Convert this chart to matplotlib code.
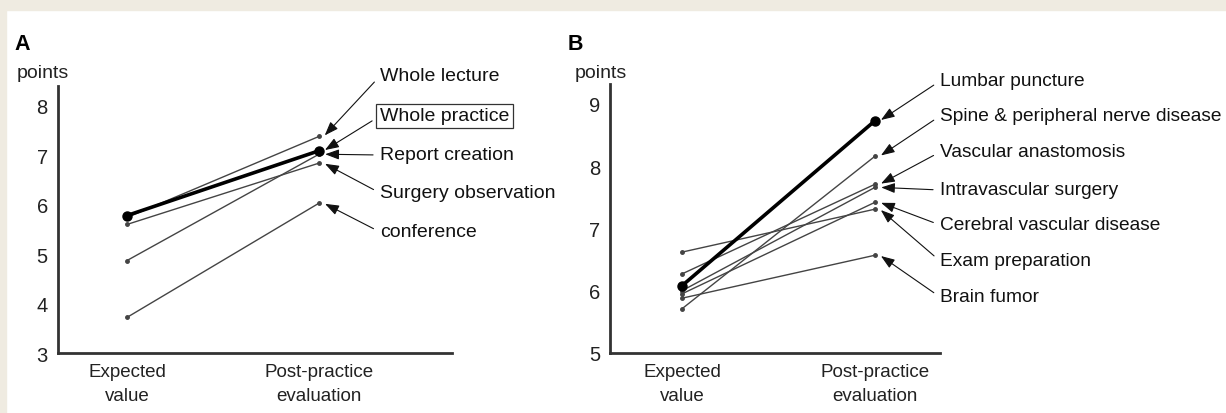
import matplotlib.pyplot as plt
from matplotlib.patches import Rectangle

plt.rcParams['font.family'] = ['Liberation Sans', 'DejaVu Sans']

W, H = 1226, 414

# panel A data
a_labels = ['Whole lecture', 'Whole practice', 'Report creation',
            'Surgery observation', 'conference']
a_expected = [5.74, 5.78, 4.87, 5.60, 3.72]
a_post = [7.38, 7.09, 7.02, 6.84, 6.03]
a_bold = 'Whole practice'
a_label_y = [77, 117, 156, 194, 233]

# panel B data
b_labels = ['Lumbar puncture', 'Spine & peripheral nerve disease',
            'Vascular anastomosis', 'Intravascular surgery',
            'Cerebral vascular disease', 'Exam preparation', 'Brain fumor']
b_expected = [6.08, 5.71, 6.27, 6.00, 5.95, 6.62, 5.88]
b_post = [8.73, 8.16, 7.71, 7.66, 7.42, 7.31, 6.57]
b_bold = 'Lumbar puncture'
b_label_y = [82, 117, 153, 191, 226, 262, 298]

xcats = ['Expected\nvalue', 'Post-practice\nevaluation']

fig = plt.figure(figsize=(W / 100, H / 100), dpi=100)
fig.patch.set_facecolor('white')
# beige frame at top and left
fig.patches.append(Rectangle((0, 1 - 11 / H), 1, 11 / H, transform=fig.transFigure,
                             color='#efebe1', zorder=0))
fig.patches.append(Rectangle((0, 0), 6 / W, 1, transform=fig.transFigure,
                             color='#efebe1', zorder=0))


def px_ax(left, right, top, bottom):
    return fig.add_axes([left / W, (H - bottom) / H, (right - left) / W, (bottom - top) / H])


def panel(ax, labels, expected, post, bold, label_y, text_x, ylim, xlim, yticks,
          fs, boxed=None):
    for lab, e, p in zip(labels, expected, post):
        if lab == bold:
            ax.plot([0, 1], [e, p], color='black', lw=2.6, marker='o', ms=6.5, zorder=4)
        else:
            ax.plot([0, 1], [e, p], color='#444444', lw=1.0, marker='o', ms=2.5, zorder=3)
    for lab, p, ly in zip(labels, post, label_y):
        bbox = None
        if lab == boxed:
            bbox = dict(boxstyle='square,pad=0.2', fc='white', ec='#333333', lw=0.9)
        ax.annotate(lab, xy=(1.025, p), xycoords='data',
                    xytext=(text_x, H - ly), textcoords='figure pixels',
                    ha='left', va='center', fontsize=fs, color='#111111', bbox=bbox,
                    annotation_clip=False,
                    arrowprops=dict(arrowstyle='-|>,head_length=0.6,head_width=0.22',
                                    color='#111111', lw=0.8, shrinkA=3, shrinkB=1,
                                    relpos=(0, 0.5)))
    ax.set_xlim(*xlim)
    ax.set_ylim(*ylim)
    ax.set_yticks(yticks)
    ax.set_xticks([0, 1])
    ax.set_xticklabels(xcats, linespacing=1.55)
    ax.tick_params(length=0, labelsize=13.5, colors='#222222')
    ax.tick_params(axis='x', pad=7)
    ax.tick_params(axis='y', pad=7, labelsize=14.5)
    for s in ['top', 'right']:
        ax.spines[s].set_visible(False)
    for s in ['left', 'bottom']:
        ax.spines[s].set_color('#333333')
        ax.spines[s].set_linewidth(2.0)


axA = px_ax(57.5, 452, 87, 354)
panel(axA, a_labels, a_expected, a_post, a_bold, a_label_y, 380,
      (3, 8.4), (-0.362, 1.693), [3, 4, 5, 6, 7, 8], 14, boxed='Whole practice')

axB = px_ax(610, 940, 85, 354)
panel(axB, b_labels, b_expected, b_post, b_bold, b_label_y, 940,
      (5, 9.32), (-0.373, 1.337), [5, 6, 7, 8, 9], 13.8)

fig.text(14 / W, 1 - 44 / H, 'A', fontsize=15.5, fontweight='bold', va='center', ha='left')
fig.text(568 / W, 1 - 44 / H, 'B', fontsize=15.5, fontweight='bold', va='center', ha='left')
fig.text(17 / W, 1 - 73 / H, 'points', fontsize=14, va='center', ha='left', color='#222222')
fig.text(575 / W, 1 - 74 / H, 'points', fontsize=14, va='center', ha='left', color='#222222')

fig.savefig('out.png', dpi=100)
